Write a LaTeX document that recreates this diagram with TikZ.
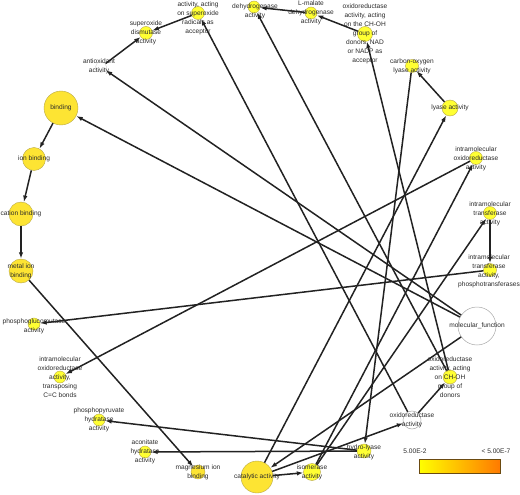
\documentclass[tikz,border=0pt]{standalone}
\usepackage{fontspec}
\setmainfont{Liberation Sans}
\usetikzlibrary{arrows.meta}
\definecolor{edgec}{HTML}{222222}
\definecolor{gold}{HTML}{FDE433}
\definecolor{yel}{HTML}{FFFF33}
\definecolor{nodeb}{HTML}{B8A848}
\definecolor{txt}{HTML}{2A2A2A}
\definecolor{wb}{HTML}{A8A8A8}
\definecolor{legl}{HTML}{FFFF00}
\definecolor{legr}{HTML}{FF7A00}
\definecolor{legb}{HTML}{6B4A10}
\begin{document}
\begin{tikzpicture}[x=1pt,y=-1pt,
  ynode/.style={circle,inner sep=0pt,fill=yel,draw=nodeb,line width=0.4pt,minimum size=#1},
  gnode/.style={circle,inner sep=0pt,fill=gold,draw=nodeb,line width=0.4pt,minimum size=#1},
  wnode/.style={circle,inner sep=0pt,fill=white,draw=wb,line width=0.5pt,minimum size=#1},
  lbl/.style={inner sep=0pt,align=center,text=txt,font=\fontsize{6.6}{9}\selectfont},
  edge/.style={draw=edgec,line width=1.5pt,-{Latex[length=6.5pt,width=4.5pt]}}
]
\useasboundingbox (0,0) rectangle (520,495);
% nodes
\node[gnode=34pt] (bind) at (61,108) {};
\node[gnode=23pt] (ion) at (34,159) {};
\node[gnode=24pt] (cat) at (21,214) {};
\node[gnode=24pt] (metal) at (21,271) {};
\node[gnode=14pt] (mg) at (198,472) {};
\node[gnode=32pt] (catal) at (257,477) {};
\node[wnode=11pt,draw=white!85!black] (antiox) at (101,67) {};
\node[ynode=13pt] (sod) at (146,33) {};
\node[ynode=13pt] (supac) at (198,13) {};
\node[ynode=12pt] (dehyd) at (254,7) {};
\node[ynode=12pt] (lmal) at (311,13) {};
\node[ynode=15pt] (nad) at (365,34) {};
\node[ynode=13pt] (colyase) at (412,66) {};
\node[ynode=16pt] (lyase) at (450,108) {};
\node[ynode=13pt] (intox) at (476,158) {};
\node[ynode=13pt] (inttr) at (490,213) {};
\node[ynode=13pt] (phtr) at (490,270) {};
\node[wnode=38pt] (mf) at (477,326) {};
\node[ynode=14pt] (choh) at (450,377) {};
\node[wnode=18pt] (oxred) at (412,420) {};
\node[ynode=14pt] (hydro) at (364,451) {};
\node[ynode=17pt] (isom) at (312,472) {};
\node[ynode=12pt] (acon) at (145,452) {};
\node[ynode=12pt] (ppyr) at (99,420) {};
\node[ynode=12pt] (ccb) at (60,377) {};
\node[ynode=12pt] (pglu) at (34,324) {};
% edges
\draw[edge] (mf) -- (bind);
\draw[edge] (mf) -- (antiox);
\draw[edge] (mf) -- (catal);
\draw[edge] (bind) -- (ion);
\draw[edge] (ion) -- (cat);
\draw[edge] (cat) -- (metal);
\draw[edge] (metal) -- (mg);
\draw[edge] (antiox) -- (sod);
\draw[edge] (supac) -- (sod);
\draw[edge] (oxred) -- (supac);
\draw[edge] (oxred) -- (choh);
\draw[edge] (choh) -- (nad);
\draw[edge] (choh) -- (dehyd);
\draw[edge] (nad) -- (lmal);
\draw[edge] (lmal) -- (dehyd);
\draw[edge] (catal) -- (oxred);
\draw[edge] (catal) -- (lyase);
\draw[edge] (lyase) -- (colyase);
\draw[edge] (colyase) -- (hydro);
\draw[edge] (hydro) -- (ppyr);
\draw[edge] (hydro) -- (acon);
\draw[edge] (catal) -- (isom);
\draw[edge] (isom) -- (intox);
\draw[edge] (isom) -- (inttr);
\draw[edge] (inttr) -- (phtr);
\draw[edge] (phtr) -- (pglu);
\draw[edge] (intox) -- (ccb);
% labels
\node[lbl] (bind-l) at (bind) {binding};
\node[lbl] (ion-l) at (ion) {ion binding};
\node[lbl] (cat-l) at (cat) {cation binding};
\node[lbl] (metal-l) at (metal) {metal ion\\binding};
\node[lbl] (mg-l) at (mg) {magnesium ion\\binding};
\node[lbl] (catal-l) at (catal) {catalytic activity};
\node[lbl] (antiox-l) at (99,66) {antioxidant\\activity};
\node[lbl] (sod-l) at (146,33) {superoxide\\dismutase\\activity};
\node[lbl] (supac-l) at (198,18) {activity, acting\\on superoxide\\radicals as\\acceptor};
\node[lbl] (dehyd-l) at (255,11.5) {dehydrogenase\\activity};
\node[lbl] (lmal-l) at (311,13) {L-malate\\dehydrogenase\\activity};
\node[lbl] (nad-l) at (365,34) {oxidoreductase\\activity, acting\\on the CH-OH\\group of\\donors, NAD\\or NADP as\\acceptor};
\node[lbl] (colyase-l) at (412,66) {carbon-oxygen\\lyase activity};
\node[lbl] (lyase-l) at (lyase) {lyase activity};
\node[lbl] (intox-l) at (476,159) {intramolecular\\oxidoreductase\\activity};
\node[lbl] (inttr-l) at (490,214) {intramolecular\\transferase\\activity};
\node[lbl] (phtr-l) at (489,271) {intramolecular\\transferase\\activity,\\phosphotransferases};
\node[lbl] (mf-l) at (mf) {molecular\_function};
\node[lbl] (choh-l) at (450,377) {oxidoreductase\\activity, acting\\on CH-OH\\group of\\donors};
\node[lbl] (oxred-l) at (412,420) {oxidoreductase\\activity};
\node[lbl] (hydro-l) at (364,452) {hydro-lyase\\activity};
\node[lbl] (isom-l) at (312,472.5) {isomerase\\activity};
\node[lbl] (acon-l) at (145,452) {aconitate\\hydratase\\activity};
\node[lbl] (ppyr-l) at (99,420) {phosphopyruvate\\hydratase\\activity};
\node[lbl] (ccb-l) at (60,377) {intramolecular\\oxidoreductase\\activity,\\transposing\\C=C bonds};
\node[lbl] (pglu-l) at (34,326) {phosphoglucomutase\\activity};
% legend
\node[lbl] (leg1) at (415,451) {5.00E-2};
\node[lbl] (leg2) at (496,451) {< 5.00E-7};
\node[draw=legb,line width=0.6pt,left color=legl,right color=legr,minimum width=81pt,minimum height=14pt,inner sep=0pt] (legbar) at (459.5,466) {};
\end{tikzpicture}
\end{document}
